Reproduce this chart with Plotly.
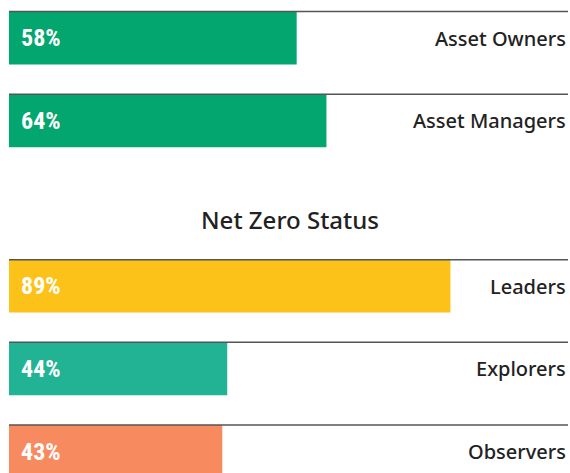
import plotly.graph_objects as go

categories = ["Asset Owners", "Asset Managers", "Leaders", "Explorers", "Observers"]
values = [58, 64, 89, 44, 43]
colors = ["#02A66E", "#02A66E", "#FDC21A", "#22B294", "#F88A5F"]
section_title = "Net Zero Status"
spacer = " "
slot_order = ["Asset Owners", "Asset Managers", spacer, "Leaders", "Explorers", "Observers"]

BAR_W = 0.64
X_MIN, X_MAX = -1.81, 113.1
LINE_END = 112.7

fig = go.Figure()
fig.add_trace(go.Bar(
    x=values, y=categories, orientation="h",
    marker=dict(color=colors, line=dict(width=0)),
    width=BAR_W, hoverinfo="skip", showlegend=False,
))

for cat, val in zip(categories, values):
    idx = slot_order.index(cat)
    fig.add_shape(type="line", xref="x", yref="y",
                  x0=0, x1=LINE_END, y0=idx - BAR_W / 2, y1=idx - BAR_W / 2,
                  line=dict(color="#555555", width=1.5), layer="above")
    fig.add_annotation(x=0, y=cat, xref="x", yref="y", text=f"{val}%",
                       xanchor="left", yanchor="middle", xshift=10, showarrow=False,
                       font=dict(family="Roboto Condensed, Open Sans Condensed, sans-serif",
                                 size=24, color="white", weight="bold"))
    fig.add_annotation(x=1, y=cat, xref="paper", yref="y", text=cat,
                       xanchor="right", yanchor="middle", xshift=-2, yshift=0, showarrow=False,
                       font=dict(family="Noto Sans, sans-serif", size=20, color="#222222", weight=500))

fig.add_annotation(x=0.508, y=spacer, xref="paper", yref="y", text=section_title,
                   xanchor="center", yanchor="middle", yshift=-16, showarrow=False,
                   font=dict(family="Noto Sans, sans-serif", size=24, color="#222222", weight=500))

fig.update_layout(
    width=570, height=473,
    margin=dict(l=0, r=0, t=0, b=0),
    paper_bgcolor="white", plot_bgcolor="white",
    xaxis=dict(range=[X_MIN, X_MAX], visible=False, fixedrange=True),
    yaxis=dict(type="category", categoryorder="array", categoryarray=slot_order,
               range=[5.26, -0.46], visible=False, fixedrange=True),
)

fig.write_html("out.html", config={"displayModeBar": False},
               post_script="document.body.style.margin='0';")
